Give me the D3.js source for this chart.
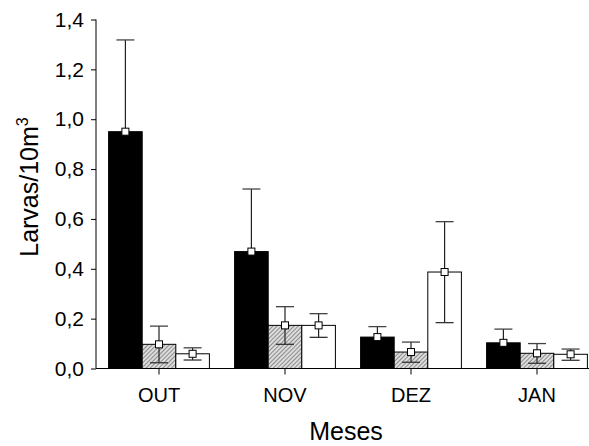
<!DOCTYPE html>
<html><head><meta charset="utf-8">
<script src="https://cdn.jsdelivr.net/npm/d3@7"></script>
<style>body{margin:0;background:#fff}svg{display:block;font-family:"Liberation Sans",Arial,sans-serif}</style>
</head><body>
<svg id="c" width="589" height="446"></svg>
<script>
const categories = ["OUT","NOV","DEZ","JAN"];
const seriesNames = ["S1","S2","S3"];
const means  = [[0.95,0.097,0.059],[0.469,0.173,0.173],[0.126,0.066,0.387],[0.103,0.061,0.057]];
const upper  = [[1.318,0.17,0.083],[0.72,0.248,0.22],[0.168,0.106,0.589],[0.158,0.10,0.078]];
const lower  = [[null,0.023,0.034],[null,0.097,0.125],[null,0.025,0.184],[null,0.021,0.033]];
const yTicks = [0,0.2,0.4,0.6,0.8,1.0,1.2,1.4];

const svg = d3.select("#c");
const defs = svg.append("defs");
const pat = defs.append("pattern").attr("id","hatch").attr("patternUnits","userSpaceOnUse")
  .attr("width",3).attr("height",3).attr("patternTransform","rotate(45)");
pat.append("rect").attr("width",3).attr("height",3).attr("fill","#dcdcdc");
pat.append("line").attr("x1",0).attr("y1",0).attr("x2",0).attr("y2",3).attr("stroke","#555").attr("stroke-width",1.2);

const y = d3.scaleLinear().domain([0,1.4]).range([368.5,19.5]);
const x = d3.scaleBand().domain(categories).range([96,600]).paddingInner(0.2).paddingOuter(0.1);
const xs = d3.scaleBand().domain(seriesNames).range([0,x.bandwidth()]);
const fills = ["#000","url(#hatch)","#fff"];

const g = svg.append("g");
categories.forEach((c,i)=>{
  seriesNames.forEach((s,j)=>{
    const bx = x(c)+xs(s), bw = xs.bandwidth(), cx = bx+bw/2;
    g.append("line").attr("x1",cx).attr("x2",cx).attr("y1",y(means[i][j])).attr("y2",y(upper[i][j])).attr("stroke","#222").attr("stroke-width",1.2);
    g.append("line").attr("x1",cx-9).attr("x2",cx+9).attr("y1",y(upper[i][j])).attr("y2",y(upper[i][j])).attr("stroke","#444").attr("stroke-width",1.3);
  });
});
categories.forEach((c,i)=>{
  seriesNames.forEach((s,j)=>{
    const bx = x(c)+xs(s), bw = xs.bandwidth();
    g.append("rect").attr("x",bx).attr("y",y(means[i][j])).attr("width",bw).attr("height",y(0)-y(means[i][j]))
      .attr("fill",fills[j]).attr("stroke","#000").attr("stroke-width",1);
  });
});
categories.forEach((c,i)=>{
  seriesNames.forEach((s,j)=>{
    const bx = x(c)+xs(s), bw = xs.bandwidth(), cx = bx+bw/2;
    if(lower[i][j]!==null){
      g.append("line").attr("x1",cx).attr("x2",cx).attr("y1",y(means[i][j])).attr("y2",y(lower[i][j])).attr("stroke","#222").attr("stroke-width",1.2);
      g.append("line").attr("x1",cx-9).attr("x2",cx+9).attr("y1",y(lower[i][j])).attr("y2",y(lower[i][j])).attr("stroke","#333").attr("stroke-width",1.3);
    }
    g.append("rect").attr("x",cx-3.5).attr("y",y(means[i][j])-3.5).attr("width",7).attr("height",7)
      .attr("fill","#fff").attr("stroke","#000").attr("stroke-width",1);
  });
});

const FONT = "Liberation Sans, Arial, sans-serif";
// Y axis
const ya = svg.append("g").attr("transform","translate(96,0)")
  .call(d3.axisLeft(y).tickValues(yTicks).tickSize(5).tickPadding(7).tickFormat(d=>d3.format(".1f")(d).replace(".",",")));
ya.attr("font-size",null).attr("font-family",null);
ya.select(".domain").attr("d",`M0,${y(1.4)}V${y(0)}`).attr("stroke","#000");
ya.selectAll("text").style("font-size","21px").style("font-family",FONT).attr("fill","#000");
ya.selectAll("line").attr("stroke","#000");

// X axis
const xa = svg.append("g").attr("transform",`translate(0,${y(0)})`)
  .call(d3.axisBottom(x).tickSize(6).tickPadding(12));
xa.attr("font-size",null).attr("font-family",null);
xa.select(".domain").attr("d","M96,0H589").attr("stroke","#000");
xa.selectAll("text").style("font-size","20px").style("font-family",FONT).attr("fill","#000").attr("dy","0.71em").attr("y",19);
xa.selectAll("line").attr("stroke","#000");

svg.append("text").attr("x",346).attr("y",440).attr("text-anchor","middle").style("font-size","25px").style("font-family",FONT).text("Meses");
const yt = svg.append("text").attr("transform","translate(38,187) rotate(-90)").attr("text-anchor","middle").style("font-size","25px").style("font-family",FONT);
yt.append("tspan").text("Larvas/10m");
yt.append("tspan").attr("dy",-10).style("font-size","16px").text("3");
</script>
</body></html>
